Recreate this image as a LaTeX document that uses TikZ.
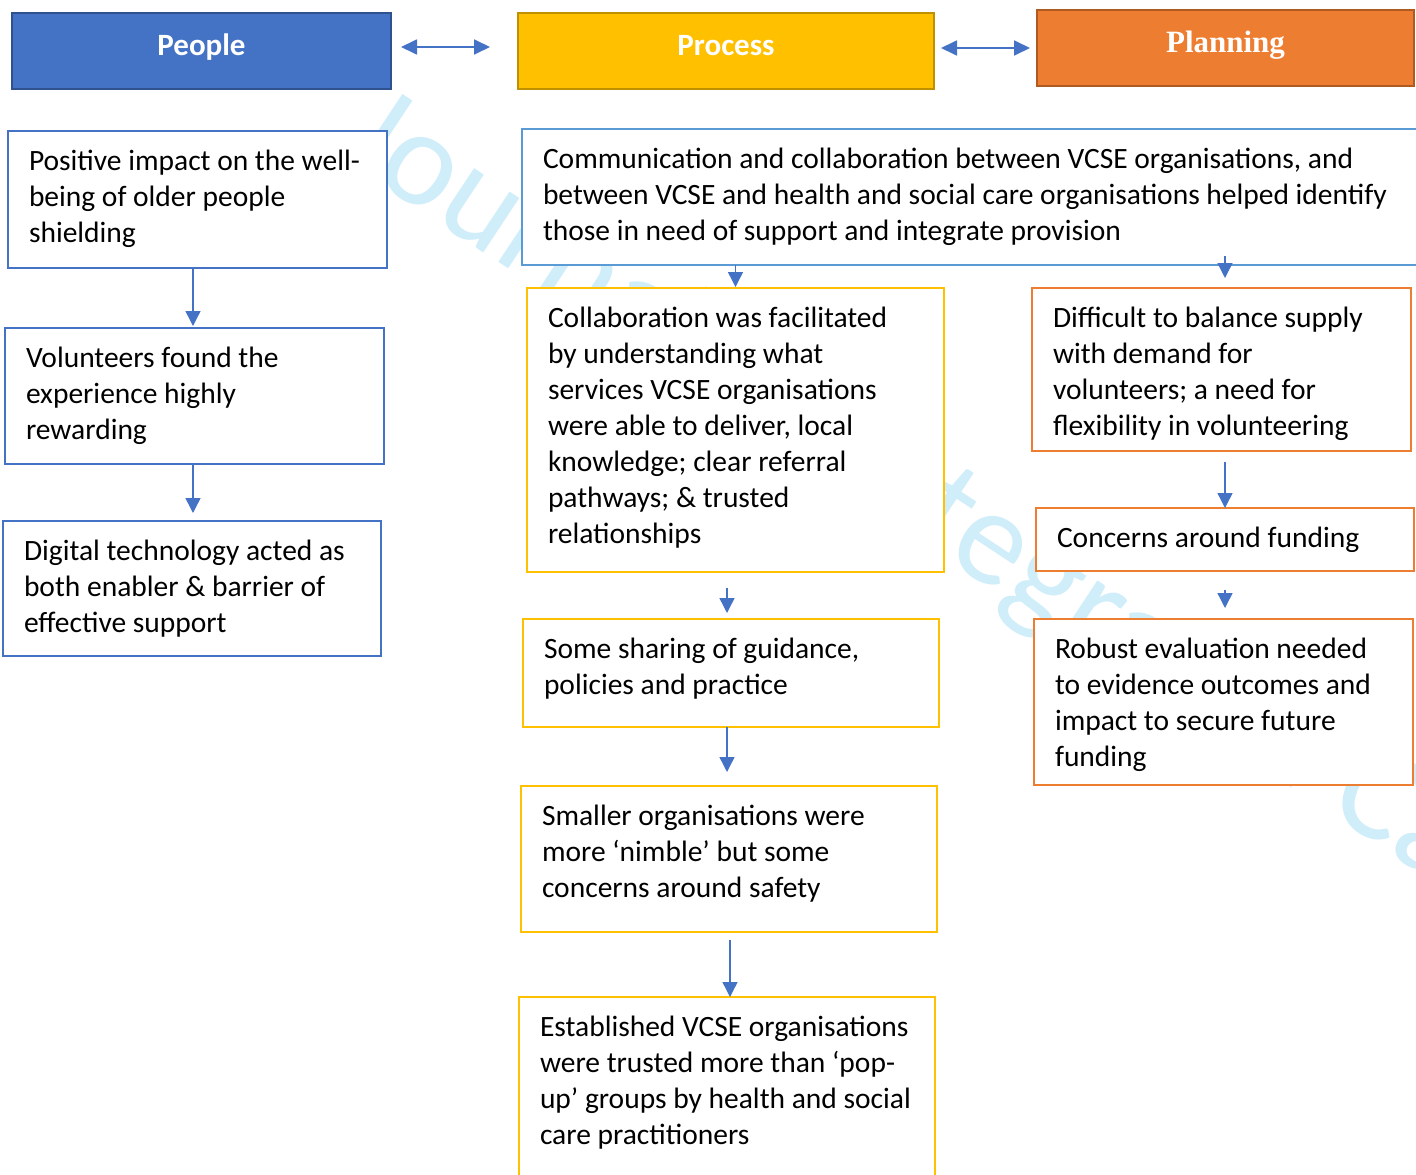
\documentclass[tikz,border=0pt]{standalone}
\usepackage{fontspec}
\setmainfont{Carlito}
\newfontfamily\serifhead{Liberation Serif}
\usetikzlibrary{arrows.meta,calc}

\definecolor{pblue}{HTML}{4472C4}
\definecolor{pblueedge}{HTML}{2F528F}
\definecolor{lblue}{HTML}{5B9BD5}
\definecolor{gold}{HTML}{FFC000}
\definecolor{goldedge}{HTML}{BF9000}
\definecolor{orng}{HTML}{ED7D31}
\definecolor{orngedge}{HTML}{AE5A21}
\definecolor{wmark}{RGB}{208,237,250}

\newcommand\bodyfont{\fontsize{29.5}{36}\selectfont}
% text block of a box: width, height, lines (top aligned, left padded)
\newcommand\cell[3]{\parbox[c][#2][t]{#1}{\vspace*{13.8pt}\leftskip=21pt\rightskip=0pt plus 1fil\parindent=0pt\strut #3\par}}

\begin{document}
\begin{tikzpicture}[x=1pt,y=-1pt,
  header/.style={anchor=north west, inner sep=0pt, outer sep=0pt, line width=2.5pt,
    text=white, text height=20pt, text depth=12pt,
    font=\fontsize{31}{36}\selectfont\bfseries},
  cellbox/.style={anchor=north west, inner sep=0pt, outer sep=0pt, line width=2.5pt,
    fill=white, font=\bodyfont, text=black},
  flow/.style={draw=pblue, line width=1.4pt, -{Triangle[length=15pt,width=15pt]}},
  link/.style={draw=pblue, line width=1.8pt,
    {Triangle[length=16pt,width=15pt]}-{Triangle[length=16pt,width=15pt]}},
]
\useasboundingbox (0,0) rectangle (1416,1175);
\clip (0,0) rectangle (1416,1175);

% background watermark
\node[text=wmark, rotate=-33.5, font=\fontsize{137}{137}\selectfont, inner sep=0pt]
  (wm) at (955,522) {Journal of Integrated Care};

% column headers
\node[header, fill=pblue, draw=pblueedge, minimum width=379pt, minimum height=76pt]
  (people) at (12,13) {People};
\node[header, fill=gold, draw=goldedge, minimum width=416pt, minimum height=76pt]
  (process) at (518,13) {Process};
\node[header, fill=orng, draw=orngedge, minimum width=377pt, minimum height=76pt,
  font=\fontsize{31}{36}\selectfont\serifhead\bfseries]
  (planning) at (1037,10) {Planning};

\draw[link] ($(people.east)+(10,-4)$) -- ($(process.west)+(-28,-4)$);
\draw[link] ($(process.east)+(7,-3)$) -- ($(planning.west)+(-7,0)$);

% people column
\node[cellbox, draw=pblue] (B1) at (8,131)
  {\cell{379pt}{137pt}{Positive impact on the well-\\being of older people\\shielding}};
\node[cellbox, draw=pblue] (B2) at (5,328)
  {\cell{379pt}{136pt}{Volunteers found the\\experience highly\\rewarding}};
\node[cellbox, draw=pblue] (B3) at (3,521)
  {\cell{378pt}{135pt}{Digital technology acted as\\both enabler \& barrier of\\effective support}};

% process column
\node[cellbox, draw=lblue] (C0) at (522,129)
  {\cell{908pt}{136pt}{Communication and collaboration between VCSE organisations, and\\between VCSE and health and social care organisations helped identify\\those in need of support and integrate provision}};
\node[cellbox, draw=gold] (C1) at (527,288)
  {\cell{417pt}{284pt}{Collaboration was facilitated\\by understanding what\\services VCSE organisations\\were able to deliver, local\\knowledge; clear referral\\pathways; \& trusted\\relationships}};
\node[cellbox, draw=gold] (C2) at (523,619)
  {\cell{416pt}{108pt}{Some sharing of guidance,\\policies and practice}};
\node[cellbox, draw=gold] (C3) at (521,786)
  {\cell{416pt}{146pt}{Smaller organisations were\\more ‘nimble’ but some\\concerns around safety}};
\node[cellbox, draw=gold] (C4) at (519,997)
  {\cell{416pt}{203pt}{Established VCSE organisations\\were trusted more than ‘pop-\\up’ groups by health and social\\care practitioners}};

% planning column
\node[cellbox, draw=orng] (R1) at (1032,288)
  {\cell{379pt}{163pt}{Difficult to balance supply\\with demand for\\volunteers; a need for\\flexibility in volunteering}};
\node[cellbox, draw=orng] (R2) at (1036,508)
  {\cell{378pt}{63pt}{Concerns around funding}};
\node[cellbox, draw=orng] (R3) at (1034,619)
  {\cell{379pt}{166pt}{Robust evaluation needed\\to evidence outcomes and\\impact to secure future\\funding}};

% flow arrows
\draw[flow] ($(B1.south)+(-4.5,0)$) -- ($(B2.north)+(-1.5,-2)$);
\draw[flow] ($(B2.south)+(-1.5,0)$) -- ($(B3.north)+(1,-8)$);

\draw[flow] (C0.south -| C1.north) -- ($(C1.north)+(0,-1)$);
\draw[flow] ($(C1.south)+(-8.5,16)$) -- ($(C2.north)+(-4,-6)$);
\draw[flow] ($(C2.south)+(-4,0)$) -- ($(C3.north)+(-2,-14)$);
\draw[flow] ($(C3.south)+(1,8)$) -- ($(C4.north)+(3,0)$);

\draw[flow] ($(C0.south -| R1.north)+(3.5,-9)$) -- ($(R1.north)+(3.5,-10)$);
\draw[flow] ($(R1.south -| R2.north)+(0,11)$) -- (R2.north);
\draw[flow] ($(R2.south)+(0,19)$) -- ($(R3.north)+(1.5,-11)$);
\end{tikzpicture}
\end{document}
